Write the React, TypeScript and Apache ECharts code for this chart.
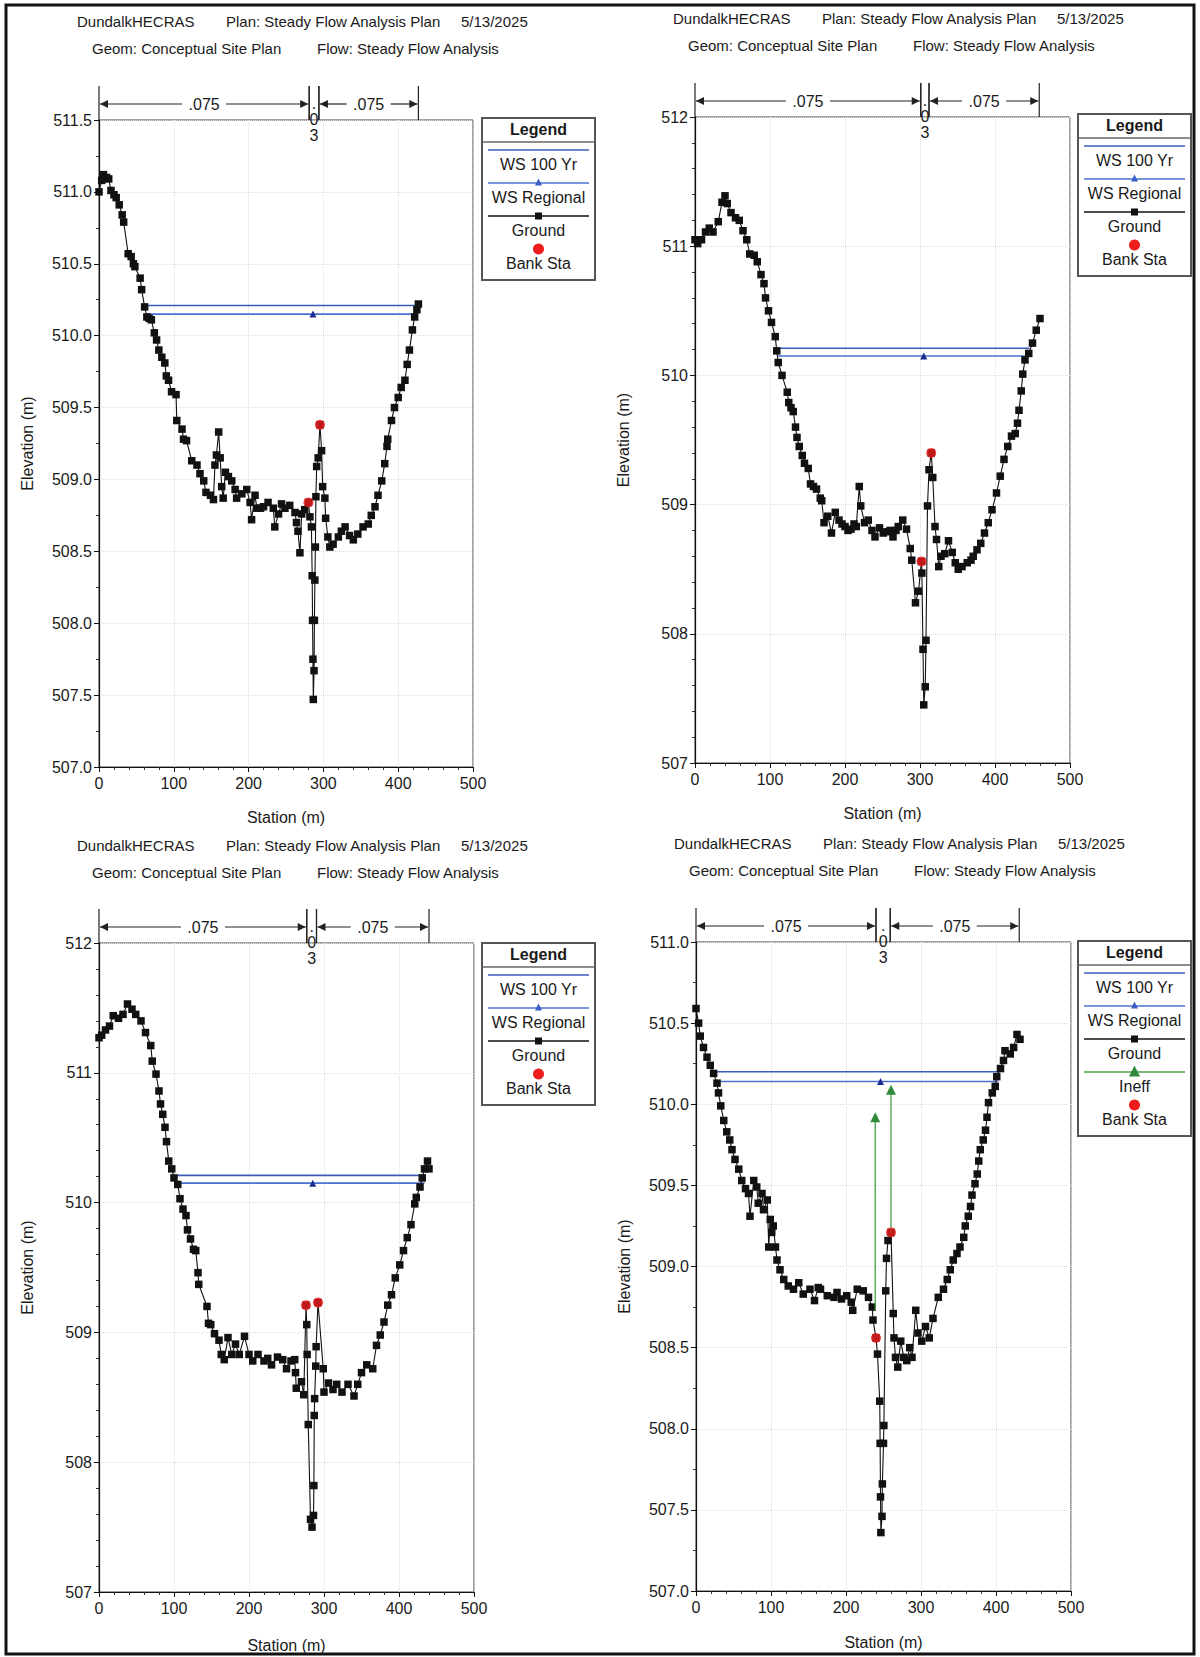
import React, { useEffect, useRef } from 'react';
import * as echarts from 'echarts';

const FONT = '"Liberation Sans", Arial, Helvetica, sans-serif';

// ---------- header texts ----------
const headerLine1 = ['DundalkHECRAS', 'Plan: Steady Flow Analysis Plan', '5/13/2025'];
const headerLine2 = ['Geom: Conceptual Site Plan', 'Flow: Steady Flow Analysis'];

// ---------- axes ----------
const stationRange = [0, 500];
const stationInterval = 100;
const elevMin = [507, 507, 507, 507];
const elevMax = [511.5, 512, 512, 511];
const elevInterval = [0.5, 1, 1, 0.5];
const elevDecimals = [1, 0, 0, 1];
const elevMinorSplit = [2, 5, 5, 2];

// ---------- ground profiles [station, elevation] ----------
const ground1 = [
  [0, 511.0], [3.6, 511.08], [6, 511.12], [10, 511.1], [13, 511.09], [16, 511.01], [20, 510.98], [23, 510.96],
  [27, 510.91], [31, 510.84], [33, 510.79], [39, 510.57], [43, 510.55], [46, 510.5], [48, 510.48], [55, 510.4],
  [57, 510.32], [61, 510.2], [64, 510.13], [67, 510.12], [70, 510.11], [74, 510.02], [77, 509.97], [80, 509.9],
  [84, 509.85], [88, 509.81], [90, 509.72], [93, 509.69], [97, 509.61], [103, 509.59], [104, 509.41], [111, 509.35],
  [113, 509.28], [117, 509.27], [124, 509.13], [131, 509.1], [135, 509.04], [140, 508.99], [143, 508.91], [149, 508.89],
  [153, 508.86], [155, 509.1], [157, 509.17], [160, 509.33], [162, 509.15], [164, 508.95], [166, 508.87], [169, 509.05],
  [173, 509.02], [177.5, 508.99], [182, 508.93], [184, 508.87], [191, 508.9], [197.5, 508.93], [202, 508.84], [204, 508.72],
  [208.6, 508.89], [211, 508.8], [216, 508.8], [220, 508.81], [226, 508.84], [233, 508.8], [235, 508.67], [240, 508.76],
  [244, 508.83], [248.6, 508.8], [255, 508.82], [262, 508.77], [264, 508.7], [266, 508.64], [268.6, 508.49], [271, 508.76],
  [275, 508.79], [280, 508.84], [282, 508.74], [284, 508.67], [285, 508.33], [285.5, 508.02], [286, 507.75], [286.5, 507.47],
  [287.5, 507.67], [288, 508.02], [288.6, 508.3], [289.3, 508.53], [290, 508.88], [291, 509.09], [293, 509.15], [295.4, 509.38],
  [297.6, 509.2], [299, 508.95], [302, 508.87], [303, 508.73], [306, 508.6], [308.6, 508.53], [313, 508.55], [320, 508.6],
  [324, 508.64], [329, 508.67], [335, 508.61], [340, 508.58], [346, 508.62], [353, 508.67], [360, 508.69], [364, 508.75],
  [369, 508.81], [373, 508.89], [378, 508.99], [382, 509.11], [385, 509.23], [386, 509.28], [391, 509.41], [395, 509.5],
  [400, 509.57], [404, 509.64], [409, 509.69], [412, 509.8], [415, 509.9], [419, 510.04], [422, 510.13], [425, 510.18],
  [427, 510.22],
];
const ground2 = [
  [0, 511.05], [3.6, 511.02], [8.7, 511.05], [14, 511.11], [19, 511.14], [24, 511.11], [31, 511.19], [36, 511.34],
  [40, 511.39], [43, 511.33], [48, 511.26], [54, 511.22], [59, 511.2], [64, 511.12], [69, 511.05], [73, 510.94],
  [79, 510.93], [83, 510.88], [88, 510.78], [92, 510.71], [94, 510.6], [98, 510.5], [102, 510.41], [107, 510.3],
  [109, 510.19], [111, 510.1], [116, 510.0], [123, 509.87], [125, 509.79], [128, 509.75], [131, 509.72], [134, 509.6],
  [136, 509.52], [139, 509.45], [143, 509.38], [146, 509.32], [151, 509.28], [154, 509.16], [158, 509.14], [162, 509.12],
  [167, 509.05], [169, 509.03], [172, 508.86], [177, 508.91], [182, 508.78], [187, 508.94], [192, 508.88], [196, 508.85],
  [200, 508.83], [204, 508.8], [208, 508.81], [212, 508.85], [215, 508.83], [219, 509.14], [221, 508.99], [226, 508.86],
  [231, 508.88], [236, 508.8], [240, 508.75], [246, 508.82], [251, 508.78], [256, 508.79], [260, 508.8], [264, 508.75],
  [268, 508.8], [271, 508.83], [277, 508.88], [282, 508.81], [287, 508.66], [289, 508.57], [294, 508.24], [298, 508.33],
  [302, 508.56], [302.5, 508.47], [304, 507.88], [305, 507.45], [307, 507.59], [308, 507.95], [310, 508.99], [312, 509.27],
  [315, 509.4], [317, 509.21], [320, 508.83], [322, 508.73], [325, 508.52], [328, 508.6], [333, 508.62], [338, 508.72],
  [343, 508.63], [347, 508.55], [351, 508.5], [356, 508.52], [363, 508.55], [368, 508.57], [371, 508.6], [376, 508.65],
  [381, 508.7], [386, 508.78], [391, 508.86], [396, 508.96], [402, 509.09], [407, 509.22], [412, 509.35], [417, 509.45],
  [422, 509.53], [427, 509.55], [430, 509.63], [432, 509.73], [435, 509.88], [437, 510.01], [440, 510.12], [445, 510.17],
  [450, 510.25], [455, 510.35], [460, 510.44],
];
const ground3 = [
  [0, 511.27], [3.6, 511.29], [8.7, 511.33], [14, 511.36], [19, 511.44], [26, 511.42], [32, 511.45], [38, 511.53],
  [44, 511.49], [49, 511.45], [56, 511.4], [62, 511.31], [69, 511.21], [71, 511.09], [76, 510.99], [80, 510.86],
  [82, 510.76], [85, 510.68], [88, 510.58], [90, 510.47], [93, 510.32], [97, 510.26], [100, 510.19], [105, 510.14],
  [108, 510.03], [112, 509.95], [116, 509.9], [118, 509.79], [122, 509.72], [126, 509.64], [129, 509.63], [132, 509.46],
  [133, 509.37], [144, 509.2], [146, 509.07], [149, 509.06], [154, 508.99], [160, 508.94], [163, 508.83], [167, 508.79],
  [172, 508.96], [177, 508.83], [182, 508.91], [187, 508.83], [194, 508.97], [200, 508.83], [205, 508.78], [212, 508.83],
  [220, 508.78], [225, 508.8], [230, 508.75], [238, 508.81], [245, 508.79], [250, 508.72], [256, 508.78], [261, 508.79],
  [262, 508.69], [263, 508.57], [270, 508.62], [273, 508.52], [276, 509.21], [277, 509.06], [277.5, 508.83], [279, 508.29],
  [282, 507.56], [284, 507.5], [286, 507.59], [286.5, 507.82], [287, 508.36], [287.5, 508.49], [289, 508.74], [289.5, 508.89],
  [292, 509.23], [299, 508.72], [300, 508.54], [306, 508.61], [312, 508.56], [317, 508.6], [324, 508.54], [332, 508.6],
  [340, 508.51], [345, 508.6], [350, 508.69], [357, 508.75], [365, 508.72], [370, 508.9], [375, 508.98], [380, 509.08],
  [385, 509.21], [390, 509.29], [395, 509.42], [401, 509.52], [406, 509.63], [411, 509.73], [416, 509.83], [421, 509.99],
  [423, 510.04], [428, 510.12], [431, 510.19], [434, 510.26], [438, 510.32], [440, 510.26],
];
const ground4 = [
  [0, 510.59], [3.5, 510.5], [5.7, 510.42], [10, 510.35], [14.7, 510.29], [19, 510.24], [23.5, 510.19], [28, 510.13],
  [30, 510.07], [33, 509.99], [37, 509.9], [41, 509.83], [45, 509.78], [48, 509.72], [52, 509.66], [57, 509.6],
  [61, 509.53], [66, 509.48], [70, 509.45], [72, 509.31], [77, 509.53], [81, 509.49], [83, 509.39], [88, 509.45],
  [90, 509.35], [95, 509.41], [97, 509.12], [99, 509.29], [101, 509.21], [103, 509.25], [106, 509.12], [108, 509.04],
  [112, 508.98], [117, 508.92], [123, 508.88], [130, 508.86], [137, 508.9], [143, 508.83], [152, 508.86], [158, 508.79],
  [163, 508.87], [166, 508.86], [175, 508.82], [184, 508.81], [188, 508.84], [194, 508.8], [201, 508.82], [207, 508.78],
  [209, 508.73], [215, 508.86], [223, 508.85], [230, 508.81], [235, 508.75], [236, 508.67], [240, 508.56], [242, 508.46],
  [245, 508.17], [245.5, 507.91], [246, 507.58], [246.5, 507.36], [248, 507.46], [248.5, 507.66], [250, 507.91], [250.5, 508.02],
  [253, 508.85], [254, 509.05], [256, 509.16], [260, 509.21], [263, 508.71], [264, 508.56], [266, 508.44], [269, 508.38],
  [273, 508.54], [277, 508.44], [281, 508.42], [285, 508.5], [288, 508.44], [293, 508.73], [296, 508.59], [301, 508.54],
  [306, 508.63], [311, 508.56], [316, 508.68], [323, 508.81], [330, 508.86], [335, 508.92], [339, 508.98], [343, 509.04],
  [348, 509.08], [352, 509.12], [357, 509.18], [359, 509.25], [363, 509.31], [366, 509.37], [368, 509.44], [372, 509.51],
  [375, 509.57], [377, 509.65], [379, 509.72], [383, 509.78], [386, 509.84], [388, 509.92], [390, 510.01], [395, 510.07],
  [399, 510.11], [401, 510.17], [406, 510.22], [410, 510.27], [412, 510.33], [419, 510.31], [423.5, 510.35], [428, 510.43],
  [432, 510.4],
];
const grounds = [ground1, ground2, ground3, ground4];

// ---------- bank stations ----------
const bankSta = [
  [[280, 508.84], [295.4, 509.38]],
  [[302, 508.56], [315, 509.4]],
  [[276, 509.21], [292, 509.23]],
  [[240, 508.56], [260, 509.21]],
];

// ---------- water surfaces ----------
const ws100Elev = [510.21, 510.21, 510.21, 510.2];
const ws100Left = [61, 109, 104, 28];
const ws100Right = [427, 446, 436, 403];
const wsRegElev = [510.15, 510.15, 510.15, 510.14];
const wsRegLeft = [64, 111, 105, 28];
const wsRegMid = [286, 305, 285, 246];
const wsRegRight = [425, 443, 434, 403];

// ---------- ineffective flow (panel 4) ----------
const ineffSta = [239, 260];
const ineffBase = [508.73, 509.21];
const ineffElev = [509.92, 510.09];

// ---------- Manning's n regions ----------
const manningBounds = [
  [0, 281, 294, 427],
  [0, 301, 312, 459],
  [0, 277, 290, 440],
  [0, 240, 259, 431],
];
const manningN = ['.075', '.03', '.075'];

// ---------- layout ----------
const grids = [
  { left: 99, top: 120, width: 374, height: 647, xGap: 42 },
  { left: 695, top: 117, width: 375, height: 646, xGap: 42 },
  { left: 99, top: 943, width: 375, height: 649, xGap: 45 },
  { left: 696, top: 942, width: 375, height: 649, xGap: 43 },
];
const legendPos = [[482, 118], [1078, 114], [482, 943], [1078, 941]];
const headerOffset = [[0, 0], [596, -3], [0, 824], [597, 822]];

const C_WS100 = '#3c5cbc';
const C_WSREG = '#4a72d2';
const C_TRI = '#1c2c90';
const C_GROUND = '#111111';
const C_BANK = '#ee1c1c';
const C_INEFF = '#49a049';
const C_INEFF_TRI = '#2f8a3c';

function txt(x: number, y: number, text: string, size: number, align = 'left', weight = 'normal') {
  return {
    type: 'text',
    x,
    y,
    silent: true,
    style: {
      text,
      fill: '#1a1a1a',
      font: `${weight} ${size}px ${FONT}`,
      textAlign: align,
      align,
      textVerticalAlign: 'middle',
      verticalAlign: 'middle',
    },
  };
}

function legendElements(L: number, T: number, withIneff: boolean) {
  const W = 113;
  const items: any[] = [
    { name: 'WS 100 Yr', line: C_WS100 },
    { name: 'WS Regional', line: C_WSREG, marker: 'triangle', mColor: '#3b5fc4', mSize: 7 },
    { name: 'Ground', line: '#111', marker: 'rect', mColor: '#111', mSize: 7 },
  ];
  if (withIneff) items.push({ name: 'Ineff', line: C_INEFF, marker: 'triangle', mColor: C_INEFF_TRI, mSize: 11 });
  items.push({ name: 'Bank Sta', marker: 'circle', mColor: C_BANK, mSize: 11 });
  const H = 24 + 33 * items.length + 6;
  const els: any[] = [
    { type: 'rect', shape: { x: L, y: T, width: W, height: H }, style: { fill: '#fff', stroke: '#555', lineWidth: 2 }, silent: true },
    txt(L + W / 2, T + 11, 'Legend', 16, 'center', 'bold'),
    { type: 'line', shape: { x1: L, y1: T + 24, x2: L + W, y2: T + 24 }, style: { stroke: '#666', lineWidth: 1.5 }, silent: true },
  ];
  items.forEach((it, k) => {
    const top = T + 24 + 33 * k;
    const ly = top + 8;
    const cx = L + W / 2;
    if (it.line) {
      els.push({ type: 'line', shape: { x1: L + 6, y1: ly, x2: L + W - 6, y2: ly }, style: { stroke: it.line, lineWidth: 1.5 }, silent: true });
    }
    const s = it.mSize || 0;
    if (it.marker === 'triangle') {
      els.push({ type: 'polygon', shape: { points: [[cx, ly - s / 2 - 1], [cx - s / 2, ly + s / 2 - 1], [cx + s / 2, ly + s / 2 - 1]] }, style: { fill: it.mColor }, silent: true });
    } else if (it.marker === 'rect') {
      els.push({ type: 'rect', shape: { x: cx - s / 2, y: ly - s / 2, width: s, height: s }, style: { fill: it.mColor }, silent: true });
    } else if (it.marker === 'circle') {
      els.push({ type: 'circle', shape: { cx, cy: ly, r: s / 2 }, style: { fill: it.mColor }, silent: true });
    }
    els.push(txt(cx, top + 22, it.name, 16, 'center'));
  });
  return els;
}

function headerElements(i: number) {
  const [dx, dy] = headerOffset[i];
  const l1x = [77, 226, 461];
  const l2x = [92, 317];
  const els: any[] = [];
  headerLine1.forEach((t, k) => els.push(txt(l1x[k] + dx, 21 + dy, t, 15)));
  headerLine2.forEach((t, k) => els.push(txt(l2x[k] + dx, 48 + dy, t, 15)));
  return els;
}

function manningSeries(i: number) {
  const b = manningBounds[i];
  const data: number[][] = [];
  for (let k = 0; k < b.length - 1; k++) data.push([b[k], elevMax[i], b[k + 1]]);
  return {
    type: 'custom',
    xAxisIndex: i,
    yAxisIndex: i,
    clip: false,
    silent: true,
    z: 10,
    data,
    renderItem: (params: any, api: any) => {
      const x1 = api.value(0);
      const yT = api.value(1);
      const x2 = api.value(2);
      const a = api.coord([x1, yT]);
      const c = api.coord([x2, yT]);
      const top = a[1];
      const ly = top - 16;
      const mid = (a[0] + c[0]) / 2;
      const label = manningN[params.dataIndex];
      const st = { stroke: '#222', lineWidth: 1.2 };
      const font = `16px ${FONT}`;
      const children: any[] = [
        { type: 'line', shape: { x1: a[0], y1: top - 34, x2: a[0], y2: top }, style: st },
        { type: 'line', shape: { x1: c[0], y1: top - 34, x2: c[0], y2: top }, style: st },
      ];
      if (c[0] - a[0] > 60) {
        children.push(
          { type: 'line', shape: { x1: a[0] + 1, y1: ly, x2: mid - 22, y2: ly }, style: st },
          { type: 'line', shape: { x1: mid + 22, y1: ly, x2: c[0] - 1, y2: ly }, style: st },
          { type: 'polygon', shape: { points: [[a[0] + 1, ly], [a[0] + 9, ly - 4], [a[0] + 9, ly + 4]] }, style: { fill: '#222' } },
          { type: 'polygon', shape: { points: [[c[0] - 1, ly], [c[0] - 9, ly - 4], [c[0] - 9, ly + 4]] }, style: { fill: '#222' } },
          { type: 'text', x: mid, y: ly, style: { text: label, fill: '#1a1a1a', font, textAlign: 'center', align: 'center', textVerticalAlign: 'middle', verticalAlign: 'middle' } }
        );
      } else {
        const chars = label.split('');
        chars.forEach((ch, k) => {
          children.push({
            type: 'text',
            x: mid,
            y: top - 17 + 16 * k,
            style: { text: ch, fill: '#1a1a1a', font, textAlign: 'center', align: 'center', textVerticalAlign: 'middle', verticalAlign: 'middle' },
          });
        });
      }
      return { type: 'group', children };
    },
  };
}

function buildOption() {
  const gridOpts = grids.map((g) => ({
    left: g.left,
    top: g.top,
    width: g.width,
    height: g.height,
    show: true,
    borderColor: '#444',
    borderWidth: 1,
    backgroundColor: '#fff',
    containLabel: false,
  }));
  const axisLabelStyle = { fontSize: 16, fontFamily: FONT, color: '#1a1a1a' };
  const xAxes = grids.map((g, i) => ({
    type: 'value',
    gridIndex: i,
    min: stationRange[0],
    max: stationRange[1],
    interval: stationInterval,
    name: 'Station (m)',
    nameLocation: 'middle',
    nameGap: g.xGap,
    nameTextStyle: axisLabelStyle,
    axisLine: { show: true, onZero: false, lineStyle: { color: '#111', width: 1.2 } },
    axisTick: { show: true, length: 5, lineStyle: { color: '#111' } },
    minorTick: { show: true, splitNumber: 5, length: 3, lineStyle: { color: '#333' } },
    axisLabel: { ...axisLabelStyle, margin: 8 },
    splitLine: { show: true, lineStyle: { color: '#dedede', type: 'dotted' } },
  }));
  const yAxes = grids.map((g, i) => ({
    type: 'value',
    gridIndex: i,
    min: elevMin[i],
    max: elevMax[i],
    interval: elevInterval[i],
    name: 'Elevation (m)',
    nameLocation: 'middle',
    nameGap: 64,
    nameRotate: 90,
    nameTextStyle: axisLabelStyle,
    axisLine: { show: true, onZero: false, lineStyle: { color: '#111', width: 1.2 } },
    axisTick: { show: true, length: 5, lineStyle: { color: '#111' } },
    minorTick: { show: true, splitNumber: elevMinorSplit[i], length: 3, lineStyle: { color: '#333' } },
    axisLabel: { ...axisLabelStyle, margin: 7, formatter: (v: number) => v.toFixed(elevDecimals[i]) },
    splitLine: { show: true, lineStyle: { color: '#dedede', type: 'dotted' } },
  }));

  const series: any[] = [];
  for (let i = 0; i < 4; i++) {
    series.push({
      name: 'WS 100 Yr',
      type: 'line',
      xAxisIndex: i,
      yAxisIndex: i,
      data: [[ws100Left[i], ws100Elev[i]], [ws100Right[i], ws100Elev[i]]],
      symbol: 'none',
      lineStyle: { color: C_WS100, width: 1.6 },
      z: 2,
      silent: true,
    });
    series.push({
      name: 'WS Regional',
      type: 'line',
      xAxisIndex: i,
      yAxisIndex: i,
      data: [
        { value: [wsRegLeft[i], wsRegElev[i]], symbol: 'none' },
        { value: [wsRegMid[i], wsRegElev[i]] },
        { value: [wsRegRight[i], wsRegElev[i]], symbol: 'none' },
      ],
      symbol: 'triangle',
      symbolSize: 7,
      itemStyle: { color: C_TRI },
      lineStyle: { color: C_WSREG, width: 1.6 },
      z: 2,
      silent: true,
    });
    series.push({
      name: 'Ground',
      type: 'line',
      xAxisIndex: i,
      yAxisIndex: i,
      data: grounds[i],
      symbol: 'rect',
      symbolSize: 7.5,
      showAllSymbol: true,
      itemStyle: { color: C_GROUND },
      lineStyle: { color: C_GROUND, width: 1.1 },
      z: 3,
      silent: true,
    });
    series.push({
      name: 'Bank Sta',
      type: 'scatter',
      xAxisIndex: i,
      yAxisIndex: i,
      data: bankSta[i],
      symbol: 'circle',
      symbolSize: 10,
      itemStyle: { color: C_BANK },
      z: 5,
      silent: true,
    });
    series.push(manningSeries(i));
  }
  ineffSta.forEach((s, k) => {
    series.push({
      name: 'Ineff',
      type: 'line',
      xAxisIndex: 3,
      yAxisIndex: 3,
      data: [
        { value: [s, ineffBase[k]], symbol: 'none' },
        { value: [s, ineffElev[k]] },
      ],
      symbol: 'triangle',
      symbolSize: 10,
      itemStyle: { color: C_INEFF_TRI },
      lineStyle: { color: C_INEFF, width: 1.3 },
      z: 4,
      silent: true,
    });
  });

  const graphicEls: any[] = [
    { type: 'rect', shape: { x: 6, y: 5, width: 1188, height: 1649 }, style: { fill: 'transparent', stroke: '#111', lineWidth: 3 }, silent: true, z: -1 },
  ];
  for (let i = 0; i < 4; i++) {
    graphicEls.push(...headerElements(i));
    graphicEls.push(...legendElements(legendPos[i][0], legendPos[i][1], i === 3));
  }

  return {
    animation: false,
    backgroundColor: '#ffffff',
    textStyle: { fontFamily: FONT },
    grid: gridOpts,
    xAxis: xAxes,
    yAxis: yAxes,
    series,
    graphic: { elements: graphicEls },
  };
}

export default function App() {
  const ref = useRef<HTMLDivElement>(null);
  useEffect(() => {
    if (!ref.current) return;
    const chart = echarts.init(ref.current, null, { renderer: 'svg' });
    chart.setOption(buildOption() as any);
    return () => chart.dispose();
  }, []);
  return (
    <div
      ref={ref}
      style={{ position: 'absolute', left: 0, top: 0, width: 1200, height: 1657, background: '#fff' }}
    />
  );
}
